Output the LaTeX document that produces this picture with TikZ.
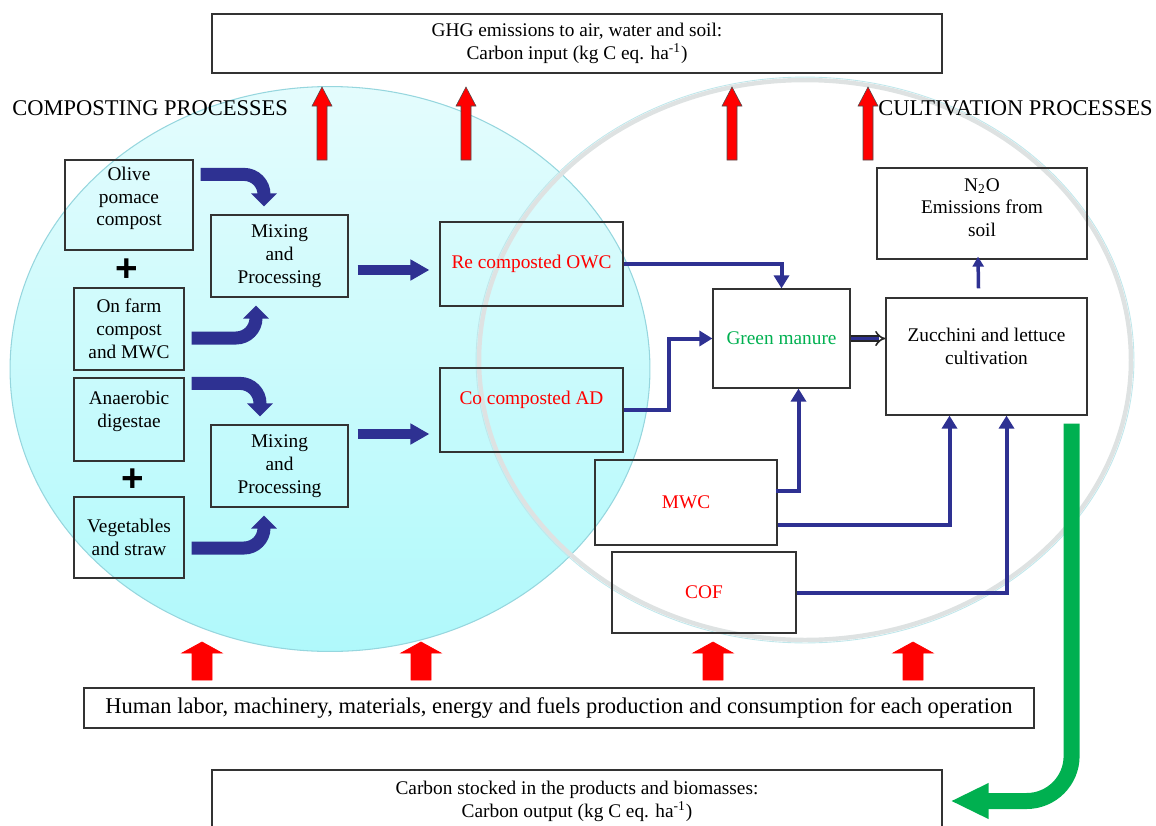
\documentclass[tikz,border=0pt]{standalone}
\usepackage{fontspec}
\setmainfont{Liberation Serif}
\newfontfamily\plusfont{Liberation Sans}
\usetikzlibrary{arrows.meta,calc,positioning}

\definecolor{navy}{RGB}{46,49,146}
\definecolor{leafgreen}{RGB}{0,176,80}
\definecolor{cyantop}{RGB}{228,252,253}
\definecolor{cyanbot}{RGB}{176,249,251}
\definecolor{cyanrim}{RGB}{150,214,222}
\definecolor{ringgray}{RGB}{222,226,226}

\tikzset{
  box/.style={draw=black!80, line width=0.7pt, align=center,
    font=\fontsize{11}{13}\selectfont},
  proclabel/.style={inner sep=0pt, anchor=west, font=\fontsize{12.8}{15}\selectfont},
  plussign/.style={font=\plusfont\bfseries\fontsize{22}{22}\selectfont},
  bigflow/.style={navy, line width=0.26cm, rounded corners=0.4cm,
    -{Triangle[length=0.26cm,width=0.5cm]}},
  pushflow/.style={navy, line width=0.2cm, -{Triangle[length=0.38cm,width=0.4cm]}},
  flow/.style={navy, line width=0.08cm, -{Triangle[length=0.26cm,width=0.3cm]}},
  stockflow/.style={leafgreen, line width=0.32cm, rounded corners=0.9cm,
    -{Triangle[length=0.76cm,width=0.66cm]}},
  redup/.style={fill=red, draw=black!70, line width=0.3pt}
}

\begin{document}
\begin{tikzpicture}[x=0.02cm, y=-0.02cm]
  \useasboundingbox (0,0) rectangle (1156,825);
  \clip (0,0) rectangle (1156,825);

  % process areas
  \shade[top color=cyantop, bottom color=cyanbot, draw=cyanrim, line width=0.6pt]
    (330,369) ellipse [x radius=6.4cm, y radius=5.65cm];
  \draw[ringgray, line width=2.5pt] (805,360) ellipse [x radius=6.52cm, y radius=5.6cm];
  \draw[cyanrim!60, line width=0.5pt] (805,360) ellipse [x radius=6.58cm, y radius=5.66cm];

  \node[proclabel] (complab) at (12,108) {COMPOSTING PROCESSES};
  \node[proclabel] (cultlab) at (878,108) {CULTIVATION PROCESSES};

  % emissions and inputs
  \foreach \x in {322,466,732,868}
    \filldraw[redup] (\x-5,160) -- (\x-5,106) -- (\x-10,106) -- (\x,87)
      -- (\x+10,106) -- (\x+5,106) -- (\x+5,160) -- cycle;
  \foreach \x in {202,421,713,913}
    \filldraw[red] (\x-10,680) -- (\x-10,653) -- (\x-20,653) -- (\x,642)
      -- (\x+20,653) -- (\x+10,653) -- (\x+10,680) -- cycle;

  % boxes
  \node[box, minimum width=14.6cm, minimum height=1.18cm] (ghg) at (577,43.5)
    {GHG emissions to air, water and soil:\\Carbon input (kg C eq. ha\textsuperscript{-1})};
  \node[box, minimum width=2.56cm, minimum height=1.8cm] (olive) at (129,205)
    {Olive\\pomace\\compost\\[-7pt]\strut};
  \node[plussign] (plusa) at (127,270) {+};
  \node[box, minimum width=2.2cm, minimum height=1.64cm] (farm) at (129,329)
    {On farm\\compost\\and MWC};
  \node[box, minimum width=2.2cm, minimum height=1.66cm] (anaer) at (129,419.5)
    {Anaerobic\\digestae\\[-5pt]\strut};
  \node[plussign] (plusb) at (133,480) {+};
  \node[box, minimum width=2.2cm, minimum height=1.62cm] (veg) at (129,537.5)
    {Vegetables\\and straw};
  \node[box, minimum width=2.74cm, minimum height=1.64cm] (mixa) at (279.5,256)
    {Mixing\\and\\Processing};
  \node[box, minimum width=2.74cm, minimum height=1.64cm] (mixb) at (279.5,466)
    {Mixing\\and\\Processing};
  \node[box, text=red, minimum width=3.66cm, minimum height=1.68cm] (owc) at (531.5,264)
    {Re composted OWC};
  \node[box, text=red, minimum width=3.66cm, minimum height=1.68cm] (ad) at (531.5,410)
    {Co composted AD\\[-3pt]\strut};
  \node[box, text=leafgreen, minimum width=2.74cm, minimum height=1.98cm] (manure) at (781.5,338.5)
    {Green manure};
  \node[box, minimum width=4.02cm, minimum height=2.34cm] (zucc) at (986.5,356.5)
    {Zucchini and lettuce\\cultivation\\[-5pt]\strut};
  \node[box, minimum width=4.2cm, minimum height=1.82cm] (nox) at (982,213.5)
    {N\textsubscript{2}O\\Emissions from\\soil\\[-10pt]\strut};
  \node[box, text=red, minimum width=3.64cm, minimum height=1.7cm] (mwc) at (686,502.5) {MWC};
  \node[box, text=red, minimum width=3.68cm, minimum height=1.62cm] (cof) at (704,592.5) {COF};
  \node[box, line width=0.9pt, font=\fontsize{12.8}{15}\selectfont,
    minimum width=19cm, minimum height=0.8cm] (labor) at (559,708)
    {Human labor, machinery, materials, energy and fuels production and consumption for each operation};
  \node[box, minimum width=14.6cm, minimum height=1.24cm] (carbon) at (577,801)
    {Carbon stocked in the products and biomasses:\\Carbon output (kg C eq. ha\textsuperscript{-1})};

  % composting flows
  \draw[bigflow] ($(olive.north east)+(7,15)$) -| ($(mixa.north)+(-15.5,-8)$);
  \draw[bigflow] ($(farm.east)+(7,9)$) -| ($(mixa.south)+(-23.5,8)$);
  \draw[bigflow] ($(anaer.north east)+(7,6)$) -| ($(mixb.north)+(-19.5,-8)$);
  \draw[bigflow] ($(veg.east)+(7,10.5)$) -| ($(mixb.south)+(-15.5,8)$);
  \draw[pushflow] ($(mixa.east)+(9,14)$) -- ($(owc.west)+(-10,6)$);
  \draw[pushflow] ($(mixb.east)+(9,-32)$) -- ($(ad.west)+(-10,24)$);

  % cultivation flows
  \draw[flow] (owc.east) -| (manure.north);
  \draw[flow] (ad.east) -- ++(45,0) |- (manure.west);
  \draw[flow] ($(mwc.east)+(-2,-12)$) -| ($(manure.south)+(17,0)$);
  \draw[flow] ($(mwc.east)+(0,22)$) -| ($(zucc.south)+(-37,0)$);
  \draw[flow] (cof.east) -| ($(zucc.south)+(20,0)$);
  \draw[black!85, double=navy, double distance=2pt, line width=0.9pt, -{Implies}]
    (manure.east) -- (manure.east -| zucc.west);
  \draw[navy, line width=0.07cm, -{Triangle[length=0.2cm,width=0.22cm]}]
    ($(zucc.north)+(-8,-9)$) -- ($(nox.south)+(-4,-3)$);

  \coordinate (gstart) at ($(zucc.south east)+(-16,8)$);
  \draw[stockflow] (gstart) |- ($(carbon.east)+(8,0)$);
\end{tikzpicture}
\end{document}
